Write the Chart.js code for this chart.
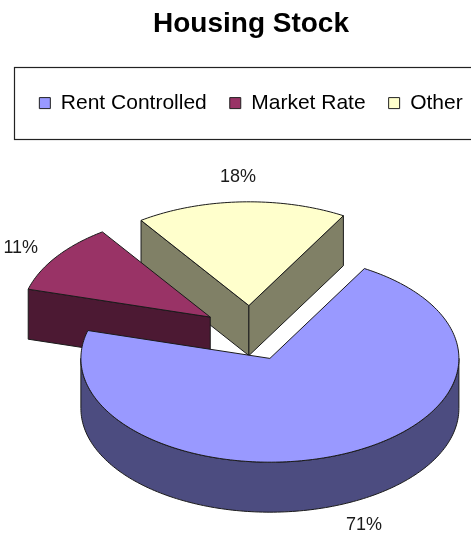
<!DOCTYPE html>
<html>
<head>
<meta charset="utf-8">
<script src="https://cdn.jsdelivr.net/npm/chart.js@4.4.1/dist/chart.umd.min.js"></script>
<style>
  body { margin: 0; background: #fff; }
  #wrap { width: 471px; height: 535px; }
</style>
</head>
<body>
<div id="wrap"><canvas id="myChart"></canvas></div>
<script>
// data
const categories = ['Rent Controlled', 'Market Rate', 'Other'];
const shares = [71, 11, 18];

// colours (top face / side face)
const topColors = ['#9999ff', '#993366', '#ffffcc'];
const sideColors = ['#4c4c80', '#4c1933', '#808066'];

const tilt = 0.549;  // vertical squash of the pie
const depth = 50;    // thickness in px

// empty layout boxes, only to move the chart area
function spacer(pos, size) {
  return {
    position: pos, weight: 0, fullSize: false, options: {},
    left: 0, top: 0, right: 0, bottom: 0, width: 0, height: 0,
    isHorizontal() { return pos === 'top' || pos === 'bottom'; },
    update(maxWidth, maxHeight) {
      if (this.isHorizontal()) { this.width = maxWidth; this.height = size; }
      else { this.width = size; this.height = maxHeight; }
    },
    draw() {}
  };
}

const spacers = {
  id: 'spacers',
  beforeInit(chart) {
    Chart.layouts.addBox(chart, spacer('left', 15.5));
    Chart.layouts.addBox(chart, spacer('top', 7.4));
  }
};

// draws the pie as a tilted 3d disc using the arcs chart.js laid out
const pie3d = {
  id: 'pie3d',
  beforeDatasetsDraw(chart) {
    const ctx = chart.ctx;
    const meta = chart.getDatasetMeta(0);
    const total = shares.reduce((a, b) => a + b, 0);

    let slices = meta.data.map((arc, i) => {
      const p = arc.getProps(['x', 'y', 'startAngle', 'endAngle', 'outerRadius'], true);
      const mid = (p.startAngle + p.endAngle) / 2;
      const off = arc.options.offset || 0;
      return {
        i: i, cx: p.x, cy: p.y, r: p.outerRadius,
        s: p.startAngle, e: p.endAngle, mid: mid,
        ox: Math.cos(mid) * off, oy: Math.sin(mid) * off
      };
    });

    const proj = (sl, ang, rad, dz) => [
      sl.cx + sl.ox + Math.cos(ang) * rad,
      sl.cy + (sl.oy + Math.sin(ang) * rad) * tilt + dz
    ];

    const arcPts = (sl, a0, a1, dz) => {
      const pts = [];
      const n = Math.max(2, Math.ceil(Math.abs(a1 - a0) / 0.02));
      for (let k = 0; k <= n; k++) {
        pts.push(proj(sl, a0 + (a1 - a0) * k / n, sl.r, dz));
      }
      return pts;
    };

    const shape = (pts, fill) => {
      ctx.beginPath();
      ctx.moveTo(pts[0][0], pts[0][1]);
      for (let k = 1; k < pts.length; k++) ctx.lineTo(pts[k][0], pts[k][1]);
      ctx.closePath();
      ctx.fillStyle = fill;
      ctx.fill();
      ctx.stroke();
    };

    // back slices first
    slices.sort((a, b) => (a.cy + a.oy * tilt) - (b.cy + b.oy * tilt));

    ctx.save();
    ctx.lineWidth = 1;
    ctx.strokeStyle = '#1a1a1a';
    ctx.lineJoin = 'round';

    slices.forEach(sl => {
      const side = sideColors[sl.i];
      const c0 = proj(sl, 0, 0, 0);
      const c1 = proj(sl, 0, 0, depth);

      // radial faces facing the viewer
      if (Math.cos(sl.s) < 0) {
        shape([c0, proj(sl, sl.s, sl.r, 0), proj(sl, sl.s, sl.r, depth), c1], side);
      }
      if (Math.cos(sl.e) > 0) {
        shape([c0, proj(sl, sl.e, sl.r, 0), proj(sl, sl.e, sl.r, depth), c1], side);
      }

      // outer rim on the front half
      for (let k = -1; k <= 2; k++) {
        const lo = Math.max(sl.s, 2 * Math.PI * k);
        const hi = Math.min(sl.e, 2 * Math.PI * k + Math.PI);
        if (hi > lo) {
          const pts = arcPts(sl, lo, hi, 0).concat(arcPts(sl, hi, lo, depth));
          shape(pts, side);
        }
      }

      // top face
      shape([c0].concat(arcPts(sl, sl.s, sl.e, 0)), topColors[sl.i]);
    });

    // percent labels, just outside the rim
    ctx.fillStyle = '#1a1a1a';
    ctx.font = '18px "Liberation Sans", Arial, sans-serif';
    ctx.textAlign = 'center';
    ctx.textBaseline = 'middle';
    slices.forEach(sl => {
      const dz = Math.sin(sl.mid) > 0 ? depth : 0;
      const edge = proj(sl, sl.mid, sl.r, dz);
      let ux = Math.cos(sl.mid), uy = Math.sin(sl.mid) * tilt;
      const len = Math.hypot(ux, uy);
      ux /= len; uy /= len;
      const pct = Math.round(shares[sl.i] / total * 100) + '%';
      ctx.fillText(pct, edge[0] + ux * 38, edge[1] + uy * 25);
    });
    ctx.restore();
    return false;
  },
  afterDraw(chart) {
    // border round the legend
    const lg = chart.legend;
    if (!lg || !lg.legendHitBoxes.length) return;
    const hb = lg.legendHitBoxes[0];
    const mid = hb.top + hb.height / 2;
    const ctx = chart.ctx;
    ctx.save();
    ctx.strokeStyle = '#222';
    ctx.lineWidth = 1.2;
    ctx.strokeRect(14.5, Math.round(mid - 36) + 0.5, chart.width + 10, 72);
    ctx.restore();
  }
};

const myChart = document.getElementById('myChart');

let pieChart = new Chart(myChart, {
  type: 'pie',
  data: {
    labels: categories,
    datasets: [{
      data: shares,
      backgroundColor: topColors,
      borderColor: '#222',
      borderWidth: 1,
      offset: 50
    }]
  },
  options: {
    responsive: true,
    maintainAspectRatio: false,
    animation: false,
    rotation: 30,
    radius: 189,
    layout: {
      padding: { left: 15.5, right: -15.5, top: 0, bottom: 0 }
    },
    plugins: {
      title: {
        display: true,
        text: 'Housing Stock',
        color: '#000',
        font: { family: '"Liberation Sans", Arial, sans-serif', size: 28, weight: 'bold' },
        padding: { top: 7, bottom: 29 }
      },
      legend: {
        position: 'top',
        labels: {
          color: '#000',
          font: { family: '"Liberation Sans", Arial, sans-serif', size: 21 },
          boxWidth: 11,
          boxHeight: 11,
          padding: 23
        }
      },
      tooltip: { enabled: false }
    }
  },
  plugins: [spacers, pie3d]
});
</script>
</body>
</html>
